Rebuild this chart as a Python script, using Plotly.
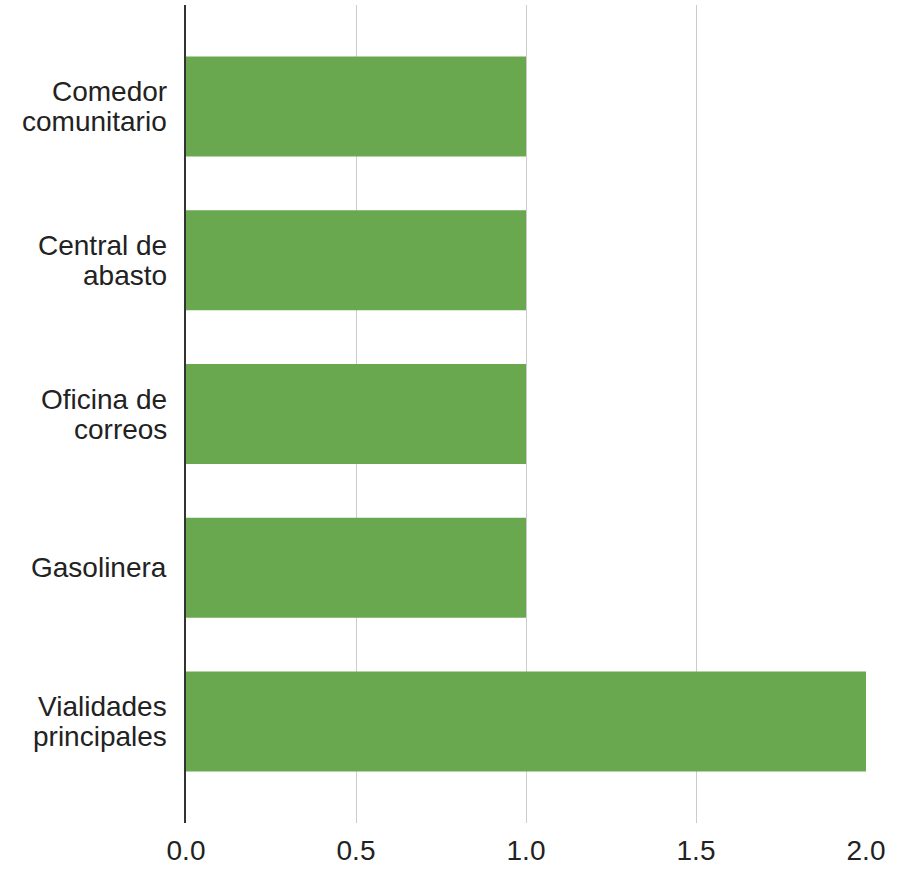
import plotly.graph_objects as go

# --- Daten ---
categorias = [
    "Comedor<br>comunitario",
    "Central de<br>abasto",
    "Oficina de<br>correos",
    "Gasolinera",
    "Vialidades<br>principales",
]
valores = [1, 1, 1, 1, 2]
x_ticks = [0, 0.5, 1.0, 1.5, 2.0]

FONT = "Liberation Sans, Arial, sans-serif"
FONT_SIZE = 28
LINE_GAP = 30  # Zeilenabstand der Kategorienamen

fig = go.Figure()
fig.add_trace(go.Bar(
    x=valores,
    y=categorias,
    orientation="h",
    marker=dict(color="#6aa84f", line=dict(width=0)),
    hoverinfo="x+y",
))

# --- Kategorienamen als Annotationen (engerer Zeilenabstand) ---
for cat in categorias:
    lines = cat.split("<br>")
    n = len(lines)
    for i, line in enumerate(lines):
        fig.add_annotation(
            x=0, xref="paper",
            y=cat, yref="y",
            text=line,
            showarrow=False,
            xanchor="right",
            yanchor="middle",
            xshift=-17,
            yshift=((n - 1) / 2 - i) * LINE_GAP,
            font=dict(family=FONT, size=FONT_SIZE, color="#222222"),
        )

fig.update_layout(
    width=904,
    height=870,
    margin=dict(l=186, r=38, t=5, b=47, autoexpand=False),
    paper_bgcolor="white",
    plot_bgcolor="white",
    bargap=0.35,
    showlegend=False,
    font=dict(family=FONT, size=FONT_SIZE, color="#222222"),
)

fig.update_xaxes(
    range=[0, 2],
    tickvals=x_ticks,
    tickformat=".1f",
    showgrid=True,
    gridcolor="#cccccc",
    gridwidth=1,
    zeroline=False,
    showline=False,
    ticks="",
    ticklabelstandoff=8,
    automargin=False,
)
fig.update_yaxes(
    range=[4.66, -0.66],
    showgrid=False,
    showline=True,
    linecolor="#333333",
    linewidth=1.5,
    ticks="",
    showticklabels=False,
    automargin=False,
)

fig.write_html(
    "out.html",
    config={"displayModeBar": False},
    post_script="document.body.style.margin='0';",
)
